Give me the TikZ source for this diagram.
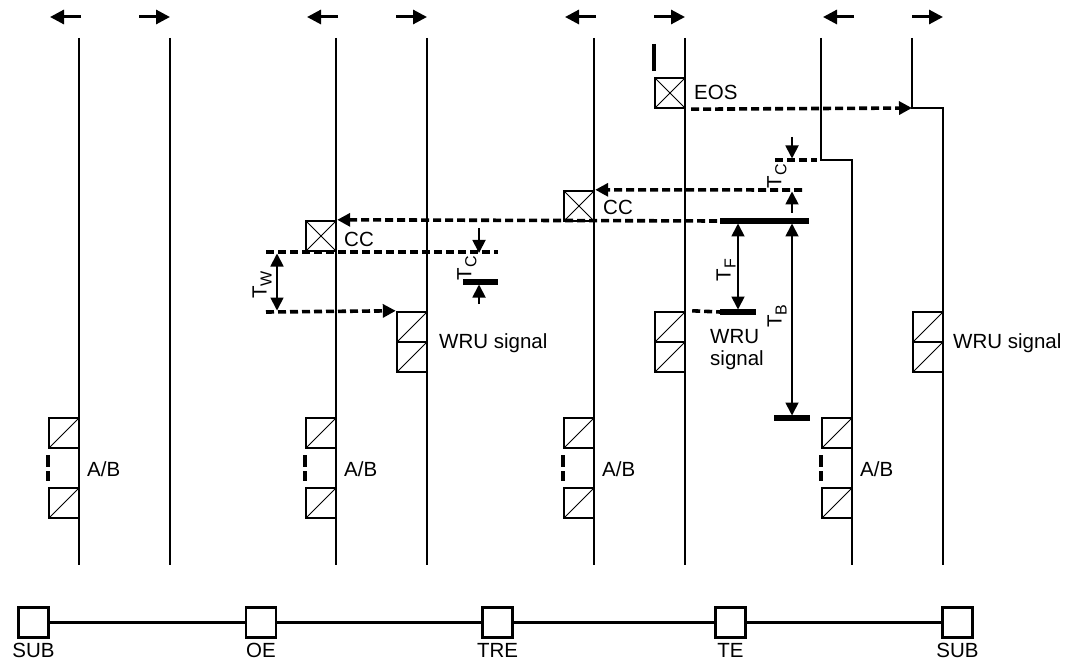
\documentclass[tikz,border=0pt]{standalone}
\usepackage{fontspec}
\setmainfont{Liberation Sans}
\usetikzlibrary{arrows.meta,positioning}

% T with a subscript in the text font
\newcommand{\Tsub}[1]{T\raisebox{-5pt}{\fontsize{16}{16}\selectfont #1}}

\tikzset{
  life/.style={line width=2.7pt},
  sig/.style={line width=3.6pt, dash pattern=on 8pt off 4pt},
  dim/.style={line width=1.8pt},
  tbar/.style={line width=5.5pt},
  txt/.style={font=\fontsize{20.5}{22}\selectfont, inner sep=0pt},
  box/.style={draw, line width=2.4pt, minimum size=30pt, inner sep=0pt},
  xbox/.style={box, path picture={
    \draw[line width=1pt] (path picture bounding box.south west) -- (path picture bounding box.north east)
      (path picture bounding box.north west) -- (path picture bounding box.south east);}},
  sbox/.style={box, path picture={
    \draw[line width=1pt] (path picture bounding box.south west) -- (path picture bounding box.north east);}},
}

\begin{document}
\begin{tikzpicture}[x=1pt, y=-1pt, >={Triangle[length=13pt,width=13pt]}]
 \useasboundingbox (0,0) rectangle (1070,660);

 % lifelines of the first three pairs
 \foreach \x in {79,170,336,427,594,685}
  \draw[life] (\x,38) -- (\x,565);
 % the last pair steps to the right
 \draw[life, line width=2.1pt] (821,38) -- (821,160) -- (852,160) -- (852,565);
 \draw[life, line width=2.1pt] (912,38) -- (912,108) -- (943,108) -- (943,565);

 % direction arrows over each pair
 \foreach \L/\R in {79/170,336/427,594/685,852/943} {
  \draw[line width=3pt, -{Triangle[length=14pt,width=14pt]}] (\L+2,17) -- (\L-29,17);
  \draw[line width=3pt, -{Triangle[length=14pt,width=14pt]}] (\R-31,17) -- (\R,17);
 }

 % A/B boxes on every left lifeline
 \foreach \L/\n in {79/a,336/b,594/c,852/d} {
  \node[sbox] (ab\n1) at (\L-15,433) {};
  \node[sbox] (ab\n2) at (\L-15,503) {};
  \draw[line width=3.4pt, dash pattern=on 12pt off 4pt] ([yshift=-6pt]ab\n1.south west) -- ([yshift=6pt]ab\n2.north west);
  \node[txt, anchor=base west] (ab\n t) at (\L+8,476) {A/B};
 }

 % WRU signal boxes
 \foreach \L/\n in {427/b,685/c,943/d} {
  \node[sbox] (wru\n1) at (\L-15,327) {};
  \node[sbox] (wru\n2) at (\L-15,357) {};
 }
 \node[txt, anchor=base west] (wrubt) at (439,348) {WRU signal};
 \node[txt, align=left] (wruct) at (737,350) {WRU\\signal};
 \node[txt, anchor=base west] (wrudt) at (953,348) {WRU signal};

 % EOS and CC boxes
 \node[xbox] (eos) at (670,93) {};
 \node[txt, anchor=base west] (eost) at (694,100) {EOS};
 \node[xbox] (cc3) at (579,206) {};
 \node[txt, anchor=base west] (cc3t) at (603,215) {CC};
 \node[xbox] (cc2) at (321,236) {};
 \node[txt, anchor=base west] (cc2t) at (344,247) {CC};
 \draw[line width=3.4pt] ([yshift=33pt]eos.north west) -- ([yshift=6pt]eos.north west);

 % free ends of the signals
 \coordinate (subin) at (912,108);
 \coordinate (ccfrom) at (802,190);
 \coordinate (cca) at (717,221);
 \coordinate (wa) at (266,252);
 \coordinate (wb) at (266,312);
 \coordinate (tca) at (498,252);
 \coordinate (fb) at (720,312);

 % signals
 \draw[sig,->] ([xshift=5pt]eos.south east) -- (subin);
 \draw[sig,->] (ccfrom) -- (cc3.north east);
 \draw[sig,->] (cca) -- (cc2.north east);
 \draw[sig] (wa) -- (tca);
 \draw[sig,->] (wb) -- (wrub1.north west);
 \draw[sig] ([xshift=6pt]wruc1.north east) -- (fb);
 \draw[sig] (775,160) -- (817,160);

 % timing bars
 \draw[tbar] (720,221) -- (809,221);
 \draw[tbar] (720,312) -- (756,312);
 \draw[tbar] (774,418) -- (810,418);
 \draw[tbar] (463,282) -- (498,282);

 % timing arrows
 \draw[dim,<->] (277,253.5) -- (277,310.5);
 \draw[dim,->] (479,228) -- (479,253);
 \draw[dim,->] (479,304) -- (479,284.5);
 \draw[dim,->] (792,137) -- (792,158.5);
 \draw[dim,->] (792,213) -- (792,191.5);
 \draw[dim,<->] (738,223.5) -- (738,309.5);
 \draw[dim,<->] (792,223.5) -- (792,415.5);
 \node[txt, rotate=90] (twt) at (262,285) {\Tsub{W}};
 \node[txt, rotate=90] (tc1t) at (467,268) {\Tsub{C}};
 \node[txt, rotate=90] (tc2t) at (777,176) {\Tsub{C}};
 \node[txt, rotate=90] (tft) at (726,270) {\Tsub{F}};
 \node[txt, rotate=90] (tbt) at (777,316) {\Tsub{B}};

 % exchanges along the route
 \node[box] (subl) at (33.5,622.5) {};
 \node[box] (oe) at (261,622.5) {};
 \node[box] (tre) at (497.5,622.5) {};
 \node[box] (te) at (730.5,622.5) {};
 \node[box] (subr) at (957.5,622.5) {};
 \draw[line width=2.4pt] (subl) -- (oe) -- (tre) -- (te) -- (subr);
 \node[txt, below=4pt of subl] (sublt) {SUB};
 \node[txt, below=4pt of oe] (oet) {OE};
 \node[txt, below=4pt of tre] (tret) {TRE};
 \node[txt, below=4pt of te] (tet) {TE};
 \node[txt, below=4pt of subr] (subrt) {SUB};
\end{tikzpicture}
\end{document}
